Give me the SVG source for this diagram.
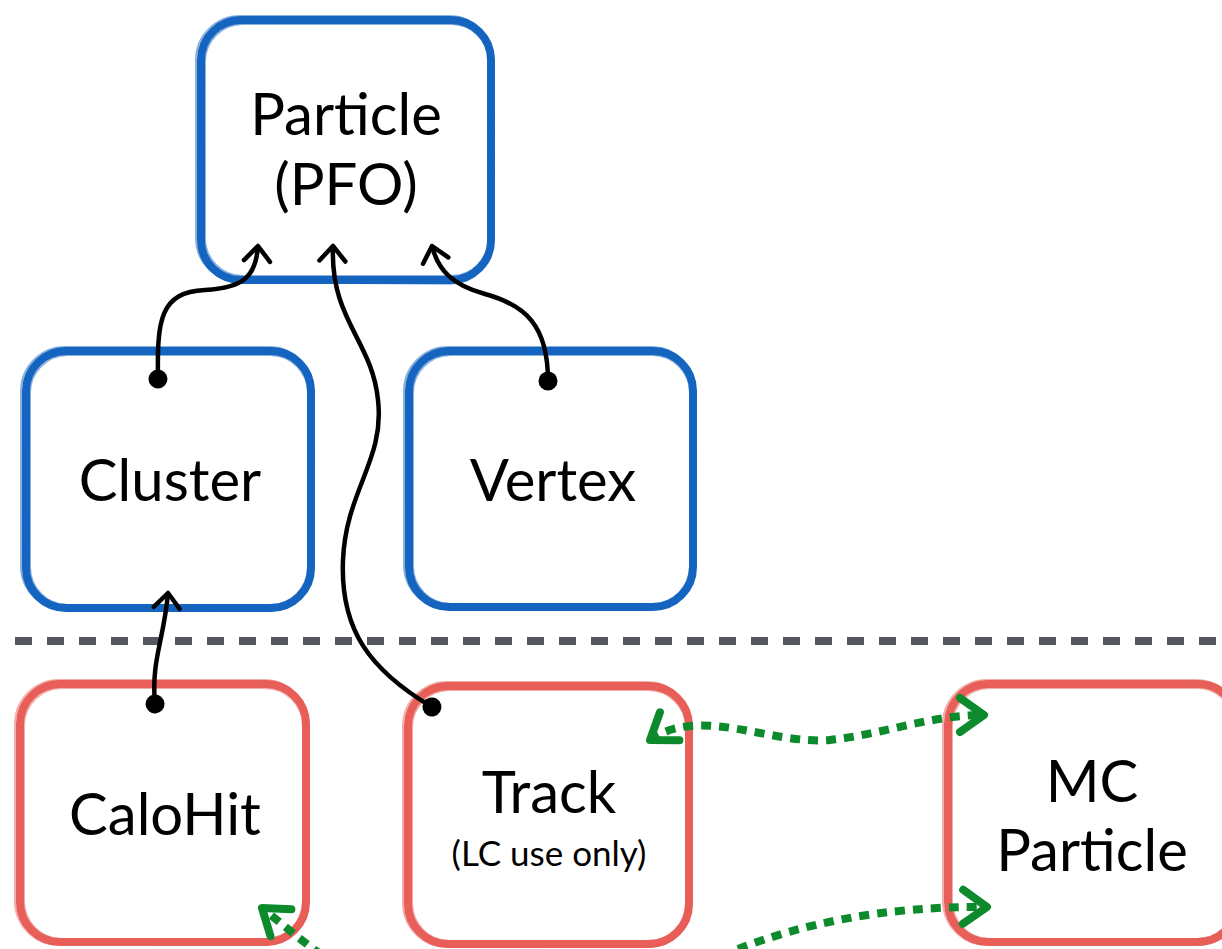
<svg xmlns="http://www.w3.org/2000/svg" width="1222" height="949" viewBox="0 0 1222 949">
<defs>
<style>
.txt{font-family:Lato,"Open Sans","Liberation Sans",sans-serif;fill:#000;text-anchor:middle}
.big{font-size:58px}
.small{font-size:35px}
.blue .main{fill:#fff;stroke:#1565c0;stroke-width:8}
.blue .s{fill:none;stroke:#1565c0;stroke-width:2;opacity:.5}
.red .main{fill:#fff;stroke:#e85e58;stroke-width:8}
.red .s{fill:none;stroke:#e85e58;stroke-width:2;opacity:.5}
.link{fill:none;stroke:#000;stroke-width:4.5}
.green{fill:none;stroke:#0c8a2c;stroke-width:8;stroke-dasharray:10 8}
</style>
<marker id="ah" viewBox="-20 -20 40 40" refX="0" refY="0" markerWidth="40" markerHeight="40" markerUnits="userSpaceOnUse" orient="auto" overflow="visible">
<path d="M-15,-13 L0,0 L-15,13" fill="none" stroke="#000" stroke-width="4.5" stroke-linecap="round" stroke-linejoin="round"/>
</marker>
<marker id="dot" viewBox="-10 -10 20 20" refX="0" refY="0" markerWidth="20" markerHeight="20" markerUnits="userSpaceOnUse" orient="auto">
<circle cx="0" cy="0" r="9.5" fill="#000"/>
</marker>
<marker id="gh" viewBox="0 0 30 30" refX="28" refY="15" markerWidth="30" markerHeight="30" markerUnits="userSpaceOnUse" orient="auto-start-reverse" overflow="visible">
<path d="M4,-2 L28,15 L4,32" fill="none" stroke="#0c8a2c" stroke-width="8" stroke-linecap="round" stroke-linejoin="round"/>
</marker>
</defs>
<rect width="1222" height="949" fill="#fff"/>

<line x1="15" y1="641" x2="1222" y2="641" stroke="#55595f" stroke-width="8" stroke-dasharray="17 15"/>

<g id="particle" class="blue">
<rect class="main" x="201" y="20" width="290" height="260" rx="40"/>
<rect class="s" x="196" y="16" width="297" height="266" rx="44"/>
<rect class="s" x="205" y="24" width="284" height="252" rx="38"/>
<rect class="s" x="199" y="18" width="294" height="265" rx="42" transform="rotate(0.4 346 150)"/>
<text class="txt big" x="346" y="135">Particle</text>
<text class="txt big" x="346" y="205">(PFO)</text>
</g>

<g id="cluster" class="blue">
<rect class="main" x="26" y="351" width="285" height="257" rx="40"/>
<rect class="s" x="21" y="347" width="292" height="263" rx="44"/>
<rect class="s" x="30" y="355" width="278" height="250" rx="38"/>
<rect class="s" x="24" y="349" width="289" height="261" rx="42" transform="rotate(0.4 168 480)"/>
<text class="txt big" x="170" y="501">Cluster</text>
</g>

<g id="vertex" class="blue">
<rect class="main" x="409" y="351" width="284" height="256" rx="40"/>
<rect class="s" x="404" y="347" width="291" height="262" rx="44"/>
<rect class="s" x="413" y="355" width="277" height="249" rx="38"/>
<rect class="s" x="407" y="349" width="288" height="260" rx="42" transform="rotate(0.4 551 480)"/>
<text class="txt big" x="553" y="501">Vertex</text>
</g>

<g id="calohit" class="red">
<rect class="main" x="20" y="684" width="286" height="258" rx="40"/>
<rect class="s" x="15" y="680" width="293" height="265" rx="44"/>
<rect class="s" x="24" y="688" width="279" height="251" rx="38"/>
<rect class="s" x="18" y="682" width="290" height="262" rx="42" transform="rotate(0.4 163 813)"/>
<text class="txt big" x="165" y="835">CaloHit</text>
</g>

<g id="track" class="red">
<rect class="main" x="408" y="686" width="281" height="258" rx="40"/>
<rect class="s" x="403" y="682" width="288" height="265" rx="44"/>
<rect class="s" x="412" y="690" width="274" height="251" rx="38"/>
<rect class="s" x="406" y="684" width="285" height="262" rx="42" transform="rotate(0.4 548 815)"/>
<text class="txt big" x="549" y="813">Track</text>
<text class="txt small" x="549" y="866">(LC use only)</text>
</g>

<g id="mcparticle" class="red">
<rect class="main" x="948" y="684" width="290" height="258" rx="40"/>
<rect class="s" x="943" y="680" width="297" height="265" rx="44"/>
<rect class="s" x="952" y="688" width="283" height="251" rx="38"/>
<text class="txt big" x="1092" y="802">MC</text>
<text class="txt big" x="1092" y="871">Particle</text>
</g>

<g id="connectors">
<path class="link" d="M158,379 C157,320 160,292 205,290 C245,288 256,275 258,246" marker-start="url(#dot)" marker-end="url(#ah)"/>
<path class="link" d="M548,381 C548,325 525,305 485,294 C452,285 438,270 432,246" marker-start="url(#dot)" marker-end="url(#ah)"/>
<path class="link" d="M432,707 C370,670 340,630 343,560 C346,490 385,460 378,400 C372,340 330,320 333,246" marker-start="url(#dot)" marker-end="url(#ah)"/>
<path class="link" d="M155,704 C151,660 164,640 168,593" marker-start="url(#dot)" marker-end="url(#ah)"/>
<path class="green" d="M650,740 C700,705 770,745 830,740 C880,735 930,715 984,715" marker-start="url(#gh)" marker-end="url(#gh)"/>
<path class="green" d="M738,949 C800,925 880,906 987,907" marker-end="url(#gh)"/>
<path class="green" d="M322,955 C300,940 280,922 262,908" marker-end="url(#gh)"/>
</g>
</svg>
